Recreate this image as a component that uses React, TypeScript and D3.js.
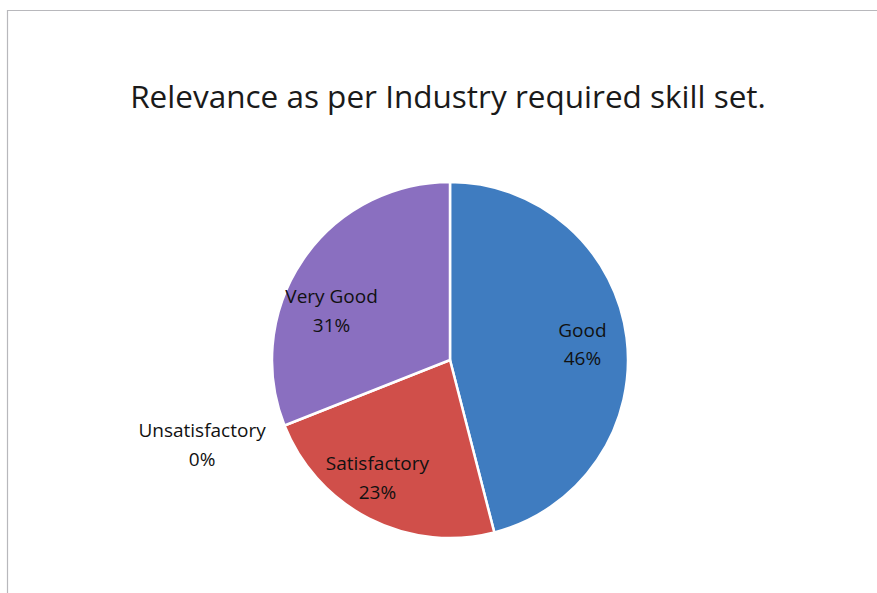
import * as d3 from "d3";
import { useEffect, useRef } from "react";

// ---- data ----
const categories = ["Good", "Satisfactory", "Unsatisfactory", "Very Good"];
const shares = [46, 23, 0, 31];
const titleText = "Relevance as per Industry required skill set.";

export default function App() {
  const ref = useRef<SVGSVGElement>(null);

  useEffect(() => {
    const width = 877;
    const height = 593;
    const cx = 450;
    const cy = 360;
    const r = 178;
    const colors = ["#3f7cc0", "#d04f4a", "#9a9a9a", "#8a6fc0"];
    const font = "'Open Sans', 'Noto Sans', sans-serif";

    const svg = d3.select(ref.current);
    svg.selectAll("*").remove();
    svg.attr("viewBox", `0 0 ${width} ${height}`);

    svg.append("rect").attr("width", width).attr("height", height).attr("fill", "#fff");

    // chart frame (only top + left visible in the scan)
    svg.append("path")
      .attr("d", `M7.5,${height}V10.5H${width}`)
      .attr("fill", "none")
      .attr("stroke", "#b8b8bc")
      .attr("stroke-width", 1.2);

    svg.append("text")
      .attr("x", 448)
      .attr("y", 108)
      .attr("text-anchor", "middle")
      .attr("font-family", font)
      .attr("font-size", 31.5)
      .attr("fill", "#1a1a1a")
      .text(titleText);

    const data = categories.map((c, i) => ({ name: c, value: shares[i], idx: i }));
    const pie = d3.pie<{ name: string; value: number; idx: number }>()
      .sort(null)
      .value((d) => d.value);
    const arcs = pie(data);

    const arc = d3.arc<d3.PieArcDatum<{ name: string; value: number; idx: number }>>()
      .innerRadius(0)
      .outerRadius(r);

    const g = svg.append("g").attr("transform", `translate(${cx},${cy})`);

    g.selectAll("path.slice")
      .data(arcs.filter((a) => a.data.value > 0))
      .join("path")
      .attr("class", "slice")
      .attr("d", arc)
      .attr("fill", (d) => colors[d.data.idx])
      .attr("stroke", "#fff")
      .attr("stroke-width", 2.5)
      .attr("stroke-linejoin", "round");

    // label positions: inside slices at 0.75r, empty slices pushed outside
    const labelNudge: Record<string, [number, number]> = {
      "Very Good": [-8, 25],
      Satisfactory: [-12, -2],
      Unsatisfactory: [-3, -13],
    };
    const labels = g.selectAll("text.lbl")
      .data(arcs)
      .join("text")
      .attr("class", "lbl")
      .attr("text-anchor", "middle")
      .attr("font-family", font)
      .attr("font-size", 19)
      .attr("fill", "#111")
      .attr("transform", (d) => {
        const k = d.data.value > 0 ? 0.75 : 1.48;
        const a = (d.startAngle + d.endAngle) / 2;
        const [nx, ny] = labelNudge[d.data.name] || [0, 0];
        return `translate(${Math.sin(a) * r * k + nx},${-Math.cos(a) * r * k + ny})`;
      });
    labels.append("tspan").attr("x", 0).attr("dy", "-0.35em").text((d) => d.data.name);
    labels.append("tspan").attr("x", 0).attr("dy", "1.5em").text((d) => `${d.data.value}%`);
  }, []);

  return (
    <svg
      ref={ref}
      width={877}
      height={593}
      style={{ position: "absolute", left: 0, top: 0, display: "block" }}
    />
  );
}
